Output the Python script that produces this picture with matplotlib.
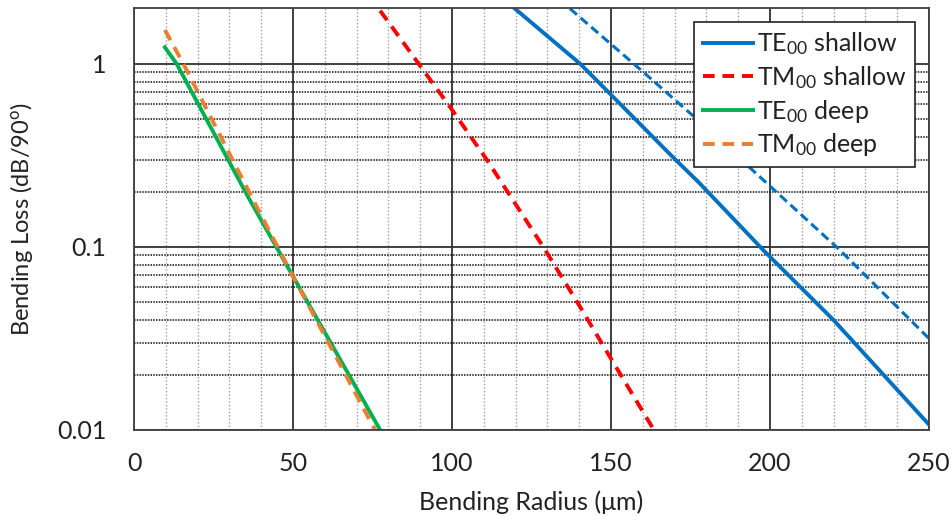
import matplotlib
matplotlib.use("Agg")
import matplotlib.pyplot as plt
from matplotlib.ticker import FixedLocator, NullFormatter, FixedFormatter

plt.rcParams['font.family'] = ['Lato', 'DejaVu Sans']
plt.rcParams['mathtext.fontset'] = 'custom'
plt.rcParams['mathtext.rm'] = 'Lato'
plt.rcParams['mathtext.it'] = 'Lato'

# data (radius in um, loss in dB/90deg)
te_shallow_x = [119.8, 140.3, 149.7, 168.6, 177.5, 197.9, 219.9, 250.0]
te_shallow_y = [2.0, 1.0, 0.686, 0.32, 0.226, 0.096, 0.04, 0.0107]

tm_shallow_x = [77.4, 99.4, 110.9, 128.7, 140.3, 149.7, 163.5]
tm_shallow_y = [1.95, 0.58, 0.30, 0.1, 0.047, 0.025, 0.01]

te_deep_x = [9.7, 13.4, 35.9, 50.0, 77.4]
te_deep_y = [1.23, 1.0, 0.187, 0.069, 0.01]

tm_deep_x = [9.7, 15.5, 37.5, 50.0, 75.8]
tm_deep_y = [1.53, 1.0, 0.18, 0.069, 0.01]

# extra dashed blue curve (no legend entry)
te_extra_x = [137.1, 160.2, 168.6, 176.9, 222.0, 250.0]
te_extra_y = [2.0, 0.90, 0.67, 0.50, 0.096, 0.0316]

fig = plt.figure(figsize=(9.52, 5.25), dpi=100)
ax = fig.add_axes([0.1408, 0.181, 0.835, 0.804])

ax.plot(te_shallow_x, te_shallow_y, color='#0070C0', lw=2.8, label='TE$_{00}$ shallow')
ax.plot(tm_shallow_x, tm_shallow_y, color='#FF0000', lw=2.8, ls=(0, (3, 2)), label='TM$_{00}$ shallow')
ax.plot(te_deep_x, te_deep_y, color='#00B050', lw=2.8, label='TE$_{00}$ deep')
ax.plot(tm_deep_x, tm_deep_y, color='#ED7D31', lw=2.8, ls=(0, (3, 2)), label='TM$_{00}$ deep')
ax.plot(te_extra_x, te_extra_y, color='#0070C0', lw=2.2, ls=(0, (3, 1.6)))

ax.set_yscale('log')
ax.set_xlim(0, 250)
ax.set_ylim(0.01, 2.02)

ax.xaxis.set_major_locator(FixedLocator([0, 50, 100, 150, 200, 250]))
ax.xaxis.set_minor_locator(FixedLocator([x for x in range(10, 250, 10) if x % 50]))
ax.yaxis.set_major_locator(FixedLocator([0.01, 0.1, 1]))
ax.yaxis.set_major_formatter(FixedFormatter(['0.01', '0.1', '1']))
ax.yaxis.set_minor_locator(FixedLocator([m * d for d in (0.01, 0.1) for m in range(2, 10)]))
ax.yaxis.set_minor_formatter(NullFormatter())

ax.grid(True, which='major', color='#303030', lw=1.3, ls='-')
ax.grid(True, which='minor', axis='x', color='#a0a0a0', lw=1.0, ls=(0, (1, 1.5)))
ax.grid(True, which='minor', axis='y', color='#101010', lw=1.1, ls=(0, (1, 0.8)))
ax.set_axisbelow(True)

ax.tick_params(which='both', length=0, labelsize=18, colors='#222222')
ax.tick_params(axis='x', pad=16)
ax.tick_params(axis='y', pad=20)
for s in ax.spines.values():
    s.set_color('#404040')
    s.set_linewidth(1.3)

ax.set_xlabel('Bending Radius (\u03bcm)', fontsize=18, color='#222222', labelpad=11)
ax.set_ylabel('Bending Loss (dB/90$^{o}$)', fontsize=17, color='#222222', labelpad=16)

leg = ax.legend(loc='upper right', fontsize=18, frameon=True, fancybox=False,
                edgecolor='#222222', framealpha=1, handlelength=2.0, borderpad=0.35,
                labelspacing=0.27, handletextpad=0.15, borderaxespad=0.55)
leg.get_frame().set_linewidth(1.2)
for t in leg.get_texts():
    t.set_color('#222222')

fig.savefig('out.png', dpi=100)
